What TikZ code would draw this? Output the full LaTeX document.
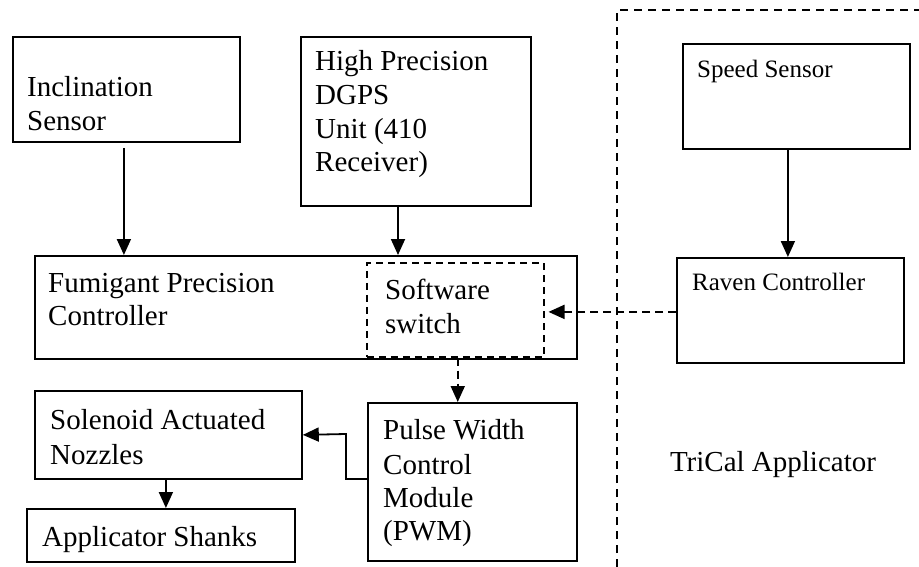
\documentclass[tikz,border=0pt]{standalone}
\usepackage{fontspec}
\setmainfont{Liberation Serif}
\usetikzlibrary{arrows.meta,calc}

\tikzset{
  box/.style={draw, line width=1.8pt, inner sep=0pt, anchor=north west},
  dbox/.style={draw, line width=1.5pt, dash pattern=on 7pt off 5pt, inner sep=0pt, anchor=north west},
  txt/.style={anchor=base west, inner sep=0pt, font=\fontsize{29}{34}\selectfont},
  stxt/.style={anchor=base west, inner sep=0pt, font=\fontsize{25}{30}\selectfont},
  arr/.style={line width=1.8pt, -{Triangle[width=14pt,length=16pt]}},
  darr/.style={line width=1.8pt, dash pattern=on 8pt off 5pt, -{Triangle[width=14pt,length=16pt]}},
  bound/.style={line width=1.5pt, dash pattern=on 8pt off 6pt}
}

\begin{document}
\begin{tikzpicture}[x=1pt, y=-1pt]
\useasboundingbox (0,0) rectangle (919,567);

% left column of inputs
\node[box, minimum width=227pt, minimum height=105pt] (incl) at (12,36) {};
\node[txt] (inclA) at (27,97) {Inclination};
\node[txt] (inclB) at (27,131) {Sensor};

\node[box, minimum width=230pt, minimum height=169pt] (dgps) at (300,36) {};
\node[txt] (dgpsA) at (315,71) {High Precision};
\node[txt] (dgpsB) at (315,105) {DGPS};
\node[txt] (dgpsC) at (315,139) {Unit (410};
\node[txt] (dgpsD) at (315,172) {Receiver)};

% main controller with its software switch
\node[box, minimum width=542pt, minimum height=103pt] (fpc) at (34,255) {};
\node[txt] (fpcA) at (48,292) {Fumigant Precision};
\node[txt] (fpcB) at (48,325) {Controller};

\node[dbox, minimum width=177pt, minimum height=94pt] (sw) at (366,262) {};
\node[txt] (swA) at (385,299) {Software};
\node[txt] (swB) at (385,333) {switch};

% outputs
\node[box, minimum width=209pt, minimum height=158pt] (pwm) at (367,402) {};
\node[txt] (pwmA) at (383,439) {Pulse Width};
\node[txt] (pwmB) at (383,474) {Control};
\node[txt] (pwmC) at (383,507) {Module};
\node[txt] (pwmD) at (383,540) {(PWM)};

\node[box, minimum width=267pt, minimum height=88pt] (sol) at (34,390) {};
\node[txt] (solA) at (50,429) {Solenoid Actuated};
\node[txt] (solB) at (50,464) {Nozzles};

\node[box, minimum width=268pt, minimum height=53pt] (app) at (26,508) {};
\node[txt] (appA) at (42,546) {Applicator Shanks};

% TriCal applicator region
\coordinate (bl) at (617,567);
\coordinate (tl) at (617,10);
\coordinate (tr) at (919,10);
\draw[bound] (bl) -- (tl) -- (tr);

\node[box, minimum width=227pt, minimum height=105pt] (speed) at (682,43) {};
\node[stxt] (speedA) at (697,78) {Speed Sensor};

\node[box, minimum width=227pt, minimum height=105pt] (raven) at (676,257) {};
\node[stxt] (ravenA) at (692,290) {Raven Controller};

\node[txt, anchor=base] (trical) at (773,471) {TriCal Applicator};

% connectors
\coordinate (dgpsout) at (398,205);
\draw[arr] ([xshift=-2.5pt,yshift=-5pt]incl.south) -- ([xshift=-2.5pt]incl.south |- fpc.north);
\draw[arr] (dgpsout) -- (dgpsout |- fpc.north);
\draw[arr] ([xshift=-8.5pt]speed.south) -- ([xshift=-8.5pt]speed.south |- raven.north);
\draw[darr] ([yshift=-1.5pt]raven.west) -- ([xshift=4pt,yshift=-1.5pt]raven.west -| sw.east);
\draw[darr] ([xshift=2.5pt]sw.south) -- ([xshift=2.5pt]sw.south |- pwm.north);
\coordinate (elb) at (346,434);
\draw[arr] ([yshift=3pt]pwm.west) -| (elb) -- (sol.east);
\draw[arr] ([xshift=-2.5pt]sol.south) -- ([xshift=-2.5pt]sol.south |- app.north);
\end{tikzpicture}
\end{document}
